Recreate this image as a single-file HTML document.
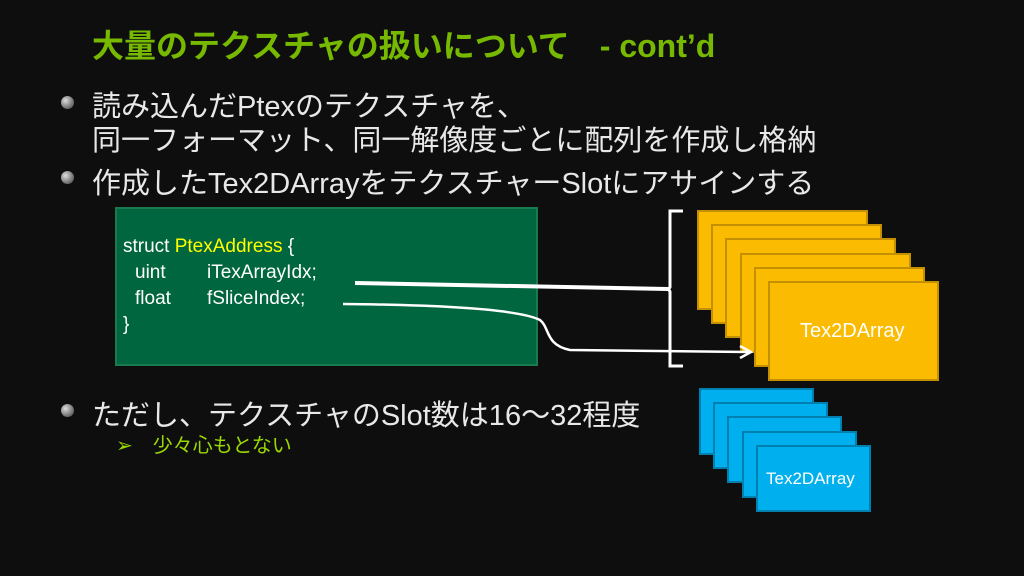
<!DOCTYPE html>
<html><head><meta charset="utf-8"><style>
body{margin:0;width:1024px;height:576px;background:#0e0e0e;overflow:hidden;position:relative;font-family:"Liberation Sans","Noto Sans CJK JP",sans-serif;}
.t{position:absolute;white-space:nowrap;}
.title{left:92px;top:21px;font-size:32px;font-weight:bold;color:#76b900;}
.b{font-size:29px;color:#e8e8e8;}
.dot{position:absolute;width:13px;height:13px;border-radius:50%;background:radial-gradient(circle at 35% 35%,#ddd,#777 60%,#444);}
.code{position:absolute;left:115px;top:207px;width:423px;height:159px;background:#00663f;border:2px solid #1a7a4f;box-sizing:border-box;}
.c{font-size:19px;color:#fff;}
.y{position:absolute;width:171px;height:100px;background:#fbbb00;border:2px solid #c48f00;box-sizing:border-box;color:#fff;font-size:20px;}
.bl{position:absolute;width:115px;height:67px;background:#00b0ee;border:2px solid #0080b0;box-sizing:border-box;color:#fff;font-size:17px;}
</style></head><body>
<div class="t title">大量のテクスチャの扱いについて<span style="display:inline-block;width:30px"></span>- cont’d</div>
<div class="dot" style="left:61px;top:96px"></div>
<div class="t b" style="left:92px;top:83px">読み込んだPtexのテクスチャを、</div>
<div class="t b" style="left:92px;top:117px">同一フォーマット、同一解像度ごとに配列を作成し格納</div>
<div class="dot" style="left:61px;top:171px"></div>
<div class="t b" style="left:92px;top:160px">作成したTex2DArrayをテクスチャーSlotにアサインする</div>
<div class="dot" style="left:61px;top:404px"></div>
<div class="t b" style="left:92px;top:392px">ただし、テクスチャのSlot数は16～32程度</div>
<div class="t" style="left:116px;top:429px;font-size:20px;color:#9ad800">➢　少々心もとない</div>
<div class="code"></div>
<div class="t c" style="left:123px;top:236px">struct <span style="color:#ffff00">PtexAddress</span> {</div>
<div class="t c" style="left:135px;top:262px">uint</div><div class="t c" style="left:207px;top:262px">iTexArrayIdx;</div>
<div class="t c" style="left:135px;top:288px">float</div><div class="t c" style="left:207px;top:288px">fSliceIndex;</div>
<div class="t c" style="left:123px;top:314px">}</div>
<div class="y" style="left:697px;top:210px"></div>
<div class="y" style="left:711px;top:224px"></div>
<div class="y" style="left:725px;top:238px"></div>
<div class="y" style="left:740px;top:253px"></div>
<div class="y" style="left:754px;top:267px"></div>
<div class="y" style="left:768px;top:281px"><div style="position:absolute;left:30px;top:37px">Tex2DArray</div></div>
<div class="bl" style="left:699px;top:388px"></div>
<div class="bl" style="left:713px;top:402px"></div>
<div class="bl" style="left:727px;top:416px"></div>
<div class="bl" style="left:742px;top:431px"></div>
<div class="bl" style="left:756px;top:445px"><div style="position:absolute;left:8px;top:22px">Tex2DArray</div></div>
<svg style="position:absolute;left:0;top:0" width="1024" height="576">
<path d="M683 211 H670 V287 Q670 289 663 289 Q670 289 670 292 V366 H683" fill="none" stroke="#fff" stroke-width="3"/>
<line x1="355" y1="283" x2="668" y2="289" stroke="#fff" stroke-width="4"/>
<path d="M343 304 C450 305 520 310 540 320 C550 328 545 345 570 350 L748 352" fill="none" stroke="#fff" stroke-width="2.5"/>
<path d="M740 346 L751 352 L740 358" fill="none" stroke="#fff" stroke-width="2.5"/>
</svg>
</body></html>
